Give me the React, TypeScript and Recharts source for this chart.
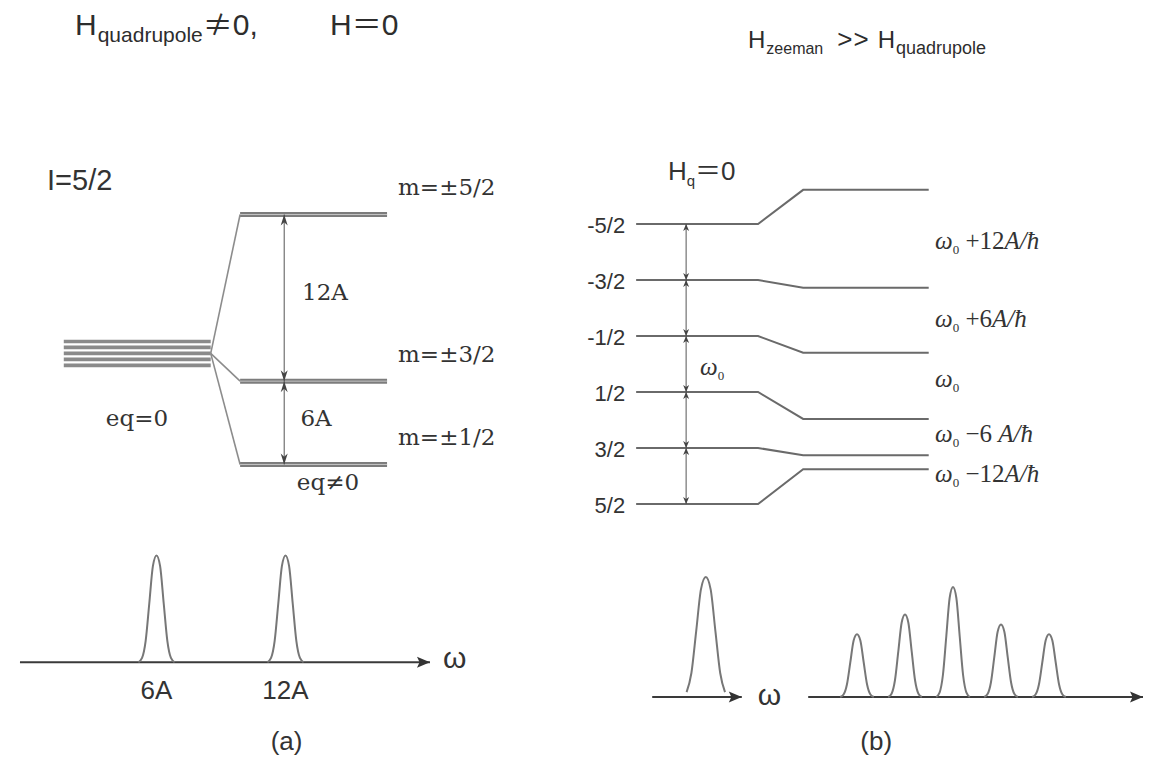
import React from 'react';
import { ComposedChart, Line, Scatter, XAxis, YAxis } from 'recharts';

// (a) quadrupole splitting of I=5/2, energies in units of A
const DEGENERATE_OFFSETS = [0.86, 0.43, 0, -0.43, -0.86];
const QUAD_LEVELS = [10, -2, -8];
const QUAD_NAMES = ['m=±5/2', 'm=±3/2', 'm=±1/2'];
const QUAD_GAPS = [[10, -2], [-2, -8]];

// (b) Zeeman levels in units of ω0; right column carries the quadrupole shift
const ZEEMAN_M = ['-5/2', '-3/2', '-1/2', '1/2', '3/2', '5/2'];
const ZEEMAN_LEFT = [2.5, 1.5, 0.5, -0.5, -1.5, -2.5];
const ZEEMAN_RIGHT = [3.11, 1.36, 0.2, -0.98, -1.63, -1.88];
const LINE_NAMES = ['+12|A/ħ', '+6|A/ħ', '|', '−6| A/ħ', '−12|A/ħ'];
const LINE_NAME_Y = [2.05, 0.66, -0.41, -1.39, -2.11];

// spectra
const SPEC_A_POS = [6, 12];
const SPEC_A_HEIGHT = [1, 1];
const SPEC_B_POS = [-12, -6, 0, 6, 12];
const SPEC_B_HEIGHT = [0.57, 0.75, 1, 0.66, 0.57];
const SPEC_B0_POS = -30.9;
const SPEC_B0_HEIGHT = 1.09;
const PEAK_SHAPE = [
  [-1, 0], [-0.8, 0.04], [-0.6, 0.2], [-0.4, 0.55], [-0.2, 0.9], [0, 1],
  [0.2, 0.9], [0.4, 0.55], [0.6, 0.2], [0.8, 0.04], [1, 0],
];

const peak = (pos: number, h: number, half: number, shape = PEAK_SHAPE) =>
  shape.map(([u, v]) => ({ x: pos + u * half, y: v * h }));

const TEXT = '#333';
const SANS = "'Liberation Sans', Arial, sans-serif";
const NOTE_STYLE: Record<string, any> = {
  serif: { fontFamily: "'DejaVu Serif', serif", fontSize: 23, fill: TEXT },
  sansBig: { fontFamily: SANS, fontSize: 29, fill: TEXT },
  sans: { fontFamily: SANS, fontSize: 26, fill: TEXT },
  sansMid: { fontFamily: SANS, fontSize: 22, fill: TEXT },
  omegaBig: { fontFamily: SANS, fontSize: 30, fill: TEXT },
};

const NoteShape = (props: any) => {
  const { cx, cy, payload } = props;
  if (cx == null || cy == null) return <g />;
  const anchor = payload.anchor ?? 'start';
  if (payload.kind === 'omega') {
    const [up, it] = payload.text.split('|');
    return (
      <text x={cx} y={cy} fontFamily="'Liberation Serif', serif" fontSize={25} fill={TEXT} textAnchor={anchor}>
        <tspan fontStyle="italic">ω</tspan>
        <tspan fontSize={13} dy={5}>0</tspan>
        <tspan dy={-5}>{up ? ' ' + up : ''}</tspan>
        <tspan fontStyle="italic">{it}</tspan>
      </text>
    );
  }
  if (payload.kind === 'hq') {
    return (
      <text x={cx} y={cy} fontFamily="'Liberation Sans', 'Noto Sans CJK JP', sans-serif" fontSize={26} fill={TEXT}>
        H<tspan fontSize={15} dy={6}>q</tspan>
        <tspan dy={-6}>＝0</tspan>
      </text>
    );
  }
  return (
    <text x={cx} y={cy} textAnchor={anchor} {...NOTE_STYLE[payload.kind]}>
      {payload.text}
    </text>
  );
};

const makeHead = (len: number, half: number, color: string) => (props: any) => {
  const { cx, cy, payload, index } = props;
  const k = `h-${index}-${cx}-${cy}`;
  if (cx == null || cy == null || !payload?.dir) return <g key={k} />;
  let d = '';
  if (payload.dir === 'up') d = `M${cx},${cy} L${cx - half},${cy + len} L${cx},${cy + len * 0.7} L${cx + half},${cy + len} Z`;
  if (payload.dir === 'down') d = `M${cx},${cy} L${cx - half},${cy - len} L${cx},${cy - len * 0.7} L${cx + half},${cy - len} Z`;
  if (payload.dir === 'right') d = `M${cx},${cy} L${cx - len},${cy - half} L${cx - len * 0.8},${cy} L${cx - len},${cy + half} Z`;
  return <path key={k} d={d} fill={color} stroke="none" />;
};

const headA = makeHead(11, 3.5, '#444');
const headB = makeHead(7, 3, '#444');
const headAxis = makeHead(13, 5.5, '#333');

const NONE = { top: 0, right: 0, bottom: 0, left: 0 };

const Frame = ({ left, top, width, height, xDomain, yDomain, children }: any) => (
  <div style={{ position: 'absolute', left, top }}>
    <ComposedChart width={width} height={height} margin={NONE}>
      <XAxis type="number" dataKey="x" domain={xDomain} hide height={0} />
      <YAxis type="number" dataKey="y" domain={yDomain} hide width={0} />
      {children}
    </ComposedChart>
  </div>
);

const seg = (key: string, data: any[], stroke: string, width: number, extra: any = {}) => (
  <Line
    key={key}
    data={data}
    dataKey="y"
    type="linear"
    stroke={stroke}
    strokeWidth={width}
    dot={false}
    activeDot={false}
    isAnimationActive={false}
    {...extra}
  />
);

export default function App() {
  // ---------- panel (a) levels ----------
  const notesA = [
    { x: -0.114, y: 11.77, text: 'I=5/2', kind: 'sansBig' },
    ...QUAD_LEVELS.map((e, i) => ({ x: 2.275, y: e + 1.4, text: QUAD_NAMES[i], kind: 'serif' })),
    { x: 1.778, y: 3.85, text: '12A', kind: 'serif', anchor: 'middle' },
    { x: 1.717, y: -5.23, text: '6A', kind: 'serif', anchor: 'middle' },
    { x: 0.498, y: -5.23, text: 'eq=0', kind: 'serif', anchor: 'middle' },
    { x: 1.798, y: -9.84, text: 'eq≠0', kind: 'serif', anchor: 'middle' },
  ];

  // ---------- panel (b) levels ----------
  const notesB = [
    { x: 0.261, y: 3.29, text: 'Hq=0', kind: 'hq' },
    ...ZEEMAN_M.map((m, i) => ({ x: -0.09, y: ZEEMAN_LEFT[i] - 0.16, text: m, kind: 'sansMid', anchor: 'end' })),
    ...LINE_NAMES.map((t, i) => ({ x: 2.452, y: LINE_NAME_Y[i], text: t, kind: 'omega' })),
    { x: 0.524, y: -0.2, text: '|', kind: 'omega' },
  ];

  const notesSpecA = [
    { x: 19.33, y: -0.055, text: 'ω', kind: 'omegaBig' },
    { x: 6, y: -0.345, text: '6A', kind: 'sans', anchor: 'middle' },
    { x: 12, y: -0.345, text: '12A', kind: 'sans', anchor: 'middle' },
    { x: 12.05, y: -0.82, text: '(a)', kind: 'sans', anchor: 'middle' },
  ];

  const notesSpecB = [
    { x: -24.4, y: -0.073, text: 'ω', kind: 'omegaBig' },
    { x: -9.6, y: -0.48, text: '(b)', kind: 'sans', anchor: 'middle' },
  ];

  return (
    <div style={{ position: 'relative', width: 1159, height: 767, background: '#fff', overflow: 'hidden' }}>
      <style>{'body{margin:0}'}</style>

      {/* titles */}
      <svg width={1159} height={80} style={{ position: 'absolute', left: 0, top: 0 }}>
        <g fontFamily="'Liberation Sans', 'Noto Sans CJK JP', sans-serif" fill="#2d2d2d">
          <text x={75} y={35} fontSize={30}>
            H<tspan fontSize={21} dy={7} dx={1}>quadrupole</tspan>
            <tspan dy={-7} fontFamily="'Noto Sans CJK JP', sans-serif">≠</tspan>
            <tspan>0,</tspan>
          </text>
          <text x={330} y={35} fontSize={30}>
            H<tspan fontFamily="'Noto Sans CJK JP', sans-serif">＝</tspan>0
          </text>
          <text x={748} y={48} fontSize={24}>
            H<tspan fontSize={16} dy={6} dx={1}>zeeman</tspan>
            <tspan dy={-6} dx={14} fontSize={26} letterSpacing={1}>&gt;&gt;</tspan>
            <tspan dx={8}>H</tspan>
            <tspan fontSize={18} dy={6} dx={1}>quadrupole</tspan>
          </text>
        </g>
      </svg>

      {/* (a) energy levels */}
      <Frame left={5} top={159} width={529} height={361} xDomain={[-0.4, 3.2]} yDomain={[-12, 14]}>
        {DEGENERATE_OFFSETS.map((o, i) =>
          seg(`dg${i}`, [{ x: 0, y: o }, { x: 1, y: o }], '#8a8a8a', 3.6)
        )}
        {QUAD_LEVELS.map((e, i) =>
          seg(`cn${i}`, [{ x: 1, y: 0 }, { x: 1.2, y: e }], '#8c8c8c', 1.6)
        )}
        {QUAD_LEVELS.map((e, i) =>
          seg(`lv${i}`, [{ x: 1.2, y: e }, { x: 2.2, y: e }], '#7c7c7c', 5)
        )}
        {QUAD_LEVELS.map((e, i) =>
          seg(`lh${i}`, [{ x: 1.2, y: e }, { x: 2.2, y: e }], '#c4c4c4', 1)
        )}
        {QUAD_GAPS.map(([a, b], i) =>
          seg(`ar${i}`, [{ x: 1.5, y: a, dir: 'up' }, { x: 1.5, y: b, dir: 'down' }], '#555', 1, { dot: headA })
        )}
        <Scatter data={notesA} shape={NoteShape} isAnimationActive={false} />
      </Frame>

      {/* (b) energy levels */}
      <Frame left={563} top={140} width={512} height={392} xDomain={[-0.6, 3.6]} yDomain={[-3, 4]}>
        {ZEEMAN_LEFT.map((l, i) =>
          seg(
            `zl${i}`,
            [{ x: 0, y: l }, { x: 1, y: l }, { x: 1.37, y: ZEEMAN_RIGHT[i] }, { x: 2.4, y: ZEEMAN_RIGHT[i] }],
            '#6a6a6a',
            2
          )
        )}
        {ZEEMAN_LEFT.slice(0, -1).map((l, i) =>
          seg(`za${i}`, [{ x: 0.41, y: l, dir: 'up' }, { x: 0.41, y: ZEEMAN_LEFT[i + 1], dir: 'down' }], '#555', 1, {
            dot: headB,
          })
        )}
        <Scatter data={notesB} shape={NoteShape} isAnimationActive={false} />
      </Frame>

      {/* (a) spectrum */}
      <Frame left={6} top={534} width={473} height={233} xDomain={[-1, 21]} yDomain={[-0.98, 1.2]}>
        {seg('axA', [{ x: -0.35, y: 0 }, { x: 18.72, y: 0, dir: 'right' }], '#3a3a3a', 2, { dot: headAxis })}
        {SPEC_A_POS.map((p, i) =>
          seg(`pa${i}`, peak(p, SPEC_A_HEIGHT[i], 0.84), '#777', 2, { type: 'monotone' })
        )}
        <Scatter data={notesSpecA} shape={NoteShape} isAnimationActive={false} />
      </Frame>

      {/* (b) spectrum */}
      <Frame left={617} top={554} width={540} height={209} xDomain={[-42, 25.5]} yDomain={[-0.6, 1.3]}>
        {seg('axB0', [{ x: -37.6, y: 0 }, { x: -26.4, y: 0, dir: 'right' }], '#3a3a3a', 2, { dot: headAxis })}
        {seg('axB', [{ x: -18.1, y: 0 }, { x: 23.75, y: 0, dir: 'right' }], '#3a3a3a', 2, { dot: headAxis })}
        {seg('pb0', peak(SPEC_B0_POS, SPEC_B0_HEIGHT, 3.0, PEAK_SHAPE.slice(1, -1)), '#777', 2, { type: 'monotone' })}
        {SPEC_B_POS.map((p, i) =>
          seg(`pb${i + 1}`, peak(p, SPEC_B_HEIGHT[i], 2.1), '#777', 2, { type: 'monotone' })
        )}
        <Scatter data={notesSpecB} shape={NoteShape} isAnimationActive={false} />
      </Frame>
    </div>
  );
}
